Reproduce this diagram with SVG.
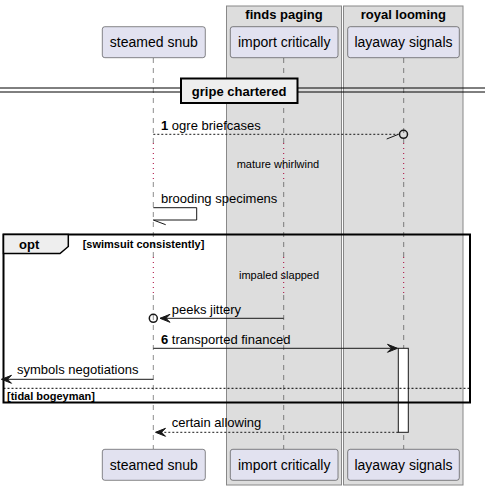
<svg xmlns="http://www.w3.org/2000/svg" width="485" height="490" viewBox="0 0 485 490">
<style>
.box{fill:#DDDDDD;stroke:#888888;stroke-width:1}
.btitle{font-family:"Liberation Sans",Arial,sans-serif;font-size:13px;font-weight:bold;fill:#000;text-anchor:middle}
.part rect{fill:#E2E2F0;stroke:#181818;stroke-width:0.5}
.part text{font-family:"Liberation Sans",Arial,sans-serif;font-size:14px;fill:#000;text-anchor:middle}
.life{stroke:#181818;stroke-width:0.5;stroke-dasharray:5,5;fill:none}
.delay{stroke:#A80036;stroke-width:1;stroke-dasharray:1,4;fill:none}
.msg{stroke:#181818;stroke-width:1;fill:none}
.dot{stroke-dasharray:2,2}
.head{fill:#181818;stroke:#181818;stroke-width:1}
.lbl{font-family:"Liberation Sans",Arial,sans-serif;font-size:13px;fill:#000}
.num{font-weight:bold}
.small{font-family:"Liberation Sans",Arial,sans-serif;font-size:11px;fill:#000}
.bold11{font-family:"Liberation Sans",Arial,sans-serif;font-size:11px;font-weight:bold;fill:#000}
.bold13{font-family:"Liberation Sans",Arial,sans-serif;font-size:13px;font-weight:bold;fill:#000}
</style>
<rect width="485" height="490" fill="#FFFFFF"/>
<g id="box-finds-paging">
<rect class="box" x="226.5" y="6" width="115" height="479"/>
<text class="btitle" x="284" y="19">finds paging</text>
</g>
<g id="box-royal-looming">
<rect class="box" x="343.5" y="6" width="119.5" height="479"/>
<text class="btitle" x="403.3" y="19">royal looming</text>
</g>
<g id="lifelines">
<line class="life" x1="153.3" y1="58" x2="153.3" y2="143"/>
<line class="delay" x1="153.3" y1="143" x2="153.3" y2="182"/>
<line class="life" x1="153.3" y1="182" x2="153.3" y2="257"/>
<line class="delay" x1="153.3" y1="257" x2="153.3" y2="295"/>
<line class="life" x1="153.3" y1="295" x2="153.3" y2="449"/>
<line class="life" x1="283.7" y1="58" x2="283.7" y2="143"/>
<line class="delay" x1="283.7" y1="143" x2="283.7" y2="182"/>
<line class="life" x1="283.7" y1="182" x2="283.7" y2="257"/>
<line class="delay" x1="283.7" y1="257" x2="283.7" y2="295"/>
<line class="life" x1="283.7" y1="295" x2="283.7" y2="449"/>
<line class="life" x1="403.7" y1="58" x2="403.7" y2="143"/>
<line class="delay" x1="403.7" y1="143" x2="403.7" y2="182"/>
<line class="life" x1="403.7" y1="182" x2="403.7" y2="257"/>
<line class="delay" x1="403.7" y1="257" x2="403.7" y2="295"/>
<line class="life" x1="403.7" y1="295" x2="403.7" y2="449"/>
</g>
<g id="p-steamed-snub-top" class="part">
<rect x="102.3" y="26.7" width="103" height="31" rx="2.5"/>
<text x="153.8" y="47">steamed snub</text>
</g>
<g id="p-import-critically-top" class="part">
<rect x="230.3" y="26.7" width="107.7" height="31" rx="2.5"/>
<text x="284.2" y="47">import critically</text>
</g>
<g id="p-layaway-signals-top" class="part">
<rect x="347.7" y="26.7" width="111.6" height="31" rx="2.5"/>
<text x="403.5" y="47">layaway signals</text>
</g>
<g id="divider-gripe-chartered">
<line x1="0" y1="88" x2="485" y2="88" stroke="#000" stroke-width="1"/>
<line x1="0" y1="92" x2="485" y2="92" stroke="#000" stroke-width="1"/>
<rect x="181" y="78.5" width="116.5" height="24.5" fill="#EEEEEE" stroke="#000" stroke-width="2"/>
<text class="bold13" x="239.2" y="95.5" text-anchor="middle">gripe chartered</text>
</g>
<g id="activation">
<rect x="398.3" y="348.3" width="10" height="84" fill="#FFFFFF" stroke="#181818" stroke-width="1"/>
</g>
<g id="group-opt">
<rect x="3.5" y="234.5" width="466.5" height="168" fill="none" stroke="#000" stroke-width="2"/>
<path d="M3.5,234.5 L68.3,234.5 L68.3,246.5 L60,253.5 L3.5,253.5 Z" fill="#EEEEEE" stroke="#000" stroke-width="1.5"/>
<text class="bold13" x="19" y="249">opt</text>
<text class="bold11" x="82.7" y="248">[swimsuit consistently]</text>
<line x1="3.5" y1="388.3" x2="470" y2="388.3" stroke="#000" stroke-width="1" stroke-dasharray="2,2"/>
<text class="bold11" x="7" y="399.5">[tidal bogeyman]</text>
</g>
<g id="connectors">
<g id="m1">
<line class="msg dot" x1="153.3" y1="134.3" x2="398.5" y2="134.3"/>
<line class="msg" x1="386.7" y1="139" x2="398.5" y2="134.3"/>
<circle cx="403.5" cy="134.3" r="4" fill="none" stroke="#181818" stroke-width="1.5"/>
<text class="lbl" x="161" y="130"><tspan class="num">1</tspan> ogre briefcases</text>
</g>
<text class="small" x="236.7" y="168">mature whirlwind</text>
<g id="m-self">
<polyline class="msg" points="153.3,207.7 196.7,207.7 196.7,220 153.3,220"/>
<line class="msg" x1="153.3" y1="220" x2="165.7" y2="224.7"/>
<text class="lbl" x="161" y="203">brooding specimens</text>
</g>
<text class="small" x="239" y="279">impaled slapped</text>
<g id="m-peeks">
<line class="msg" x1="283.7" y1="318.3" x2="160" y2="318.3"/>
<polygon class="head" points="170,314.3 160,318.3 170,322.3 166,318.3"/>
<circle cx="153.3" cy="318.3" r="4" fill="none" stroke="#181818" stroke-width="1.5"/>
<text class="lbl" x="171.7" y="314">peeks jittery</text>
</g>
<g id="m6">
<line class="msg" x1="153.3" y1="348.3" x2="397.5" y2="348.3"/>
<polygon class="head" points="387.5,344.3 397.5,348.3 387.5,352.3 391.5,348.3"/>
<text class="lbl" x="161" y="344"><tspan class="num">6</tspan> transported financed</text>
</g>
<g id="m-symbols">
<line class="msg" x1="153.3" y1="379.3" x2="1.5" y2="379.3"/>
<polygon class="head" points="11.5,375.3 1.5,379.3 11.5,383.3 7.5,379.3"/>
<text class="lbl" x="17" y="374">symbols negotiations</text>
</g>
<g id="m-certain">
<line class="msg dot" x1="398.3" y1="432.3" x2="155.5" y2="432.3"/>
<polygon class="head" points="165.5,428.3 155.5,432.3 165.5,436.3 161.5,432.3"/>
<text class="lbl" x="171.7" y="427">certain allowing</text>
</g>
</g>
<g id="p-steamed-snub-bottom" class="part">
<rect x="102.3" y="449.3" width="103" height="31" rx="2.5"/>
<text x="153.8" y="470">steamed snub</text>
</g>
<g id="p-import-critically-bottom" class="part">
<rect x="230.3" y="449.3" width="107.7" height="31" rx="2.5"/>
<text x="284.2" y="470">import critically</text>
</g>
<g id="p-layaway-signals-bottom" class="part">
<rect x="347.7" y="449.3" width="111.6" height="31" rx="2.5"/>
<text x="403.5" y="470">layaway signals</text>
</g>
</svg>
